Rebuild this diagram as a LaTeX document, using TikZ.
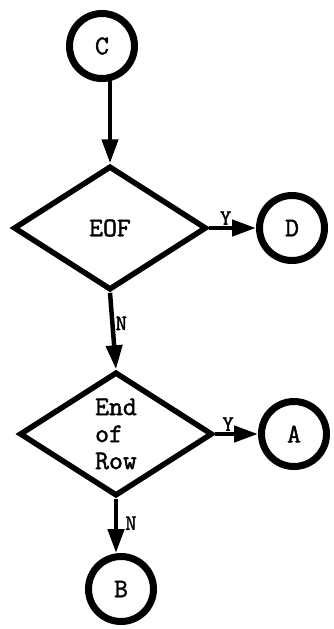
\documentclass[tikz,border=0pt]{standalone}
\usepackage{fontspec}
\setmonofont{Latin Modern Mono}[FakeBold=1.6]
\usetikzlibrary{shapes.geometric,arrows.meta}
\tikzset{
  conn/.style={circle,draw,line width=7pt,minimum size=65pt,inner sep=0pt,
    font=\ttfamily\fontsize{27}{27}\selectfont},
  test/.style={diamond,draw,line width=5.5pt,minimum width=193pt,minimum height=124pt,
    inner sep=0pt,align=left,font=\ttfamily\fontsize{27}{27}\selectfont},
  flow/.style={line width=4.5pt,-{Triangle[length=24pt,width=16pt]}},
  yn/.style={font=\ttfamily\fontsize{22}{22}\selectfont,inner sep=1pt}
}
\begin{document}
\begin{tikzpicture}[x=1pt,y=-1pt]
        \useasboundingbox (0,0) rectangle (334,629) ;
        % connectors and tests
        \node[conn] (C) at (102,46) {C} ;
        \node[test] (EOF) at (110,228) {EOF} ;
        \node[conn] (D) at (292,228) {D} ;
        \node[test] (Row) at (116,434) {End\\of\\Row} ;
        \node[conn] (A) at (294,434) {A} ;
        \node[conn] (B) at (121,589) {B} ;
        % flow lines
        \draw[flow,shorten <=-2pt] (C.south -| EOF.north) -- (EOF.north) ;
        \draw[flow] (EOF.east) -- node[yn,above,pos=0.35]{Y} (D.west) ;
        \draw[flow] (EOF.south) -- node[yn,right,pos=0.4]{N} (Row.north) ;
        \draw[flow] (Row.east) -- node[yn,above,pos=0.3]{Y} (A.west) ;
        \draw[flow] (Row.south) -- node[yn,right,xshift=6pt,pos=0.45]{N}
        (Row.south |- B.north) ;
      \end{tikzpicture}
\end{document}
